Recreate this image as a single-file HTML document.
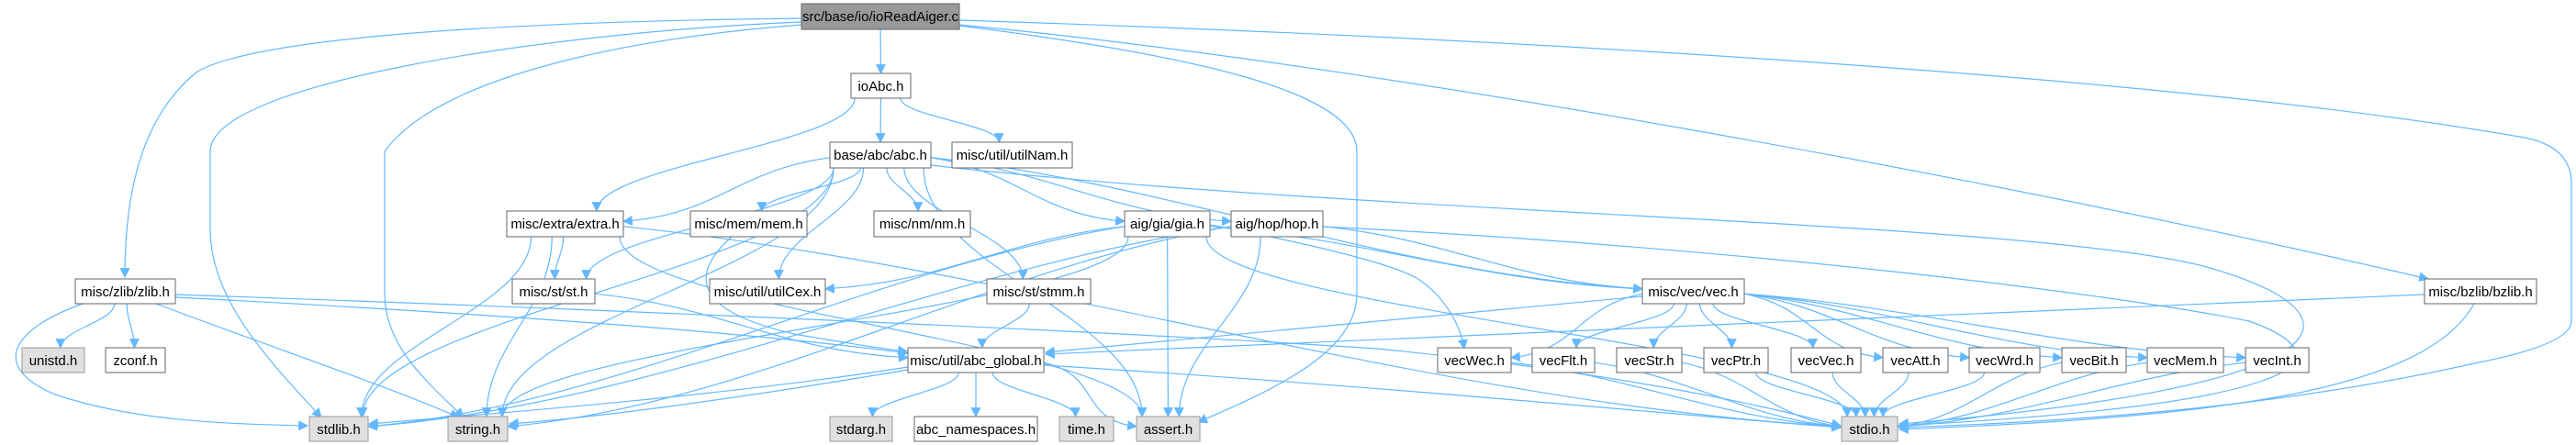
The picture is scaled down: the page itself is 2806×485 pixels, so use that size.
<!DOCTYPE html>
<html><head><meta charset="utf-8"><style>
html,body{margin:0;padding:0;background:#fff;}
svg{display:block;font-family:"Liberation Sans",Arial,sans-serif;}
</style></head><body>
<svg id="g" width="2806" height="485" viewBox="0 0 2806 485" xmlns="http://www.w3.org/2000/svg">
<defs><marker id="a" viewBox="0 0 10 10" refX="9" refY="5" markerWidth="11" markerHeight="11" markerUnits="userSpaceOnUse" orient="auto"><path d="M0,0 L10,5 L0,10 z" fill="#63b8ff"/></marker></defs>
<g fill="none" stroke="#63b8ff" stroke-width="1.2" marker-end="url(#a)">
<path d="M873,20 C700,22 300,30 215,78 C150,130 136,220 136,302"/>
<path d="M873,24 C600,35 229,90 229,165 L229,250 C229,330 300,400 350,455"/>
<path d="M873,27 C700,40 480,80 419,165 L419,320 C419,380 470,420 505,455"/>
<path d="M1045,22 C1600,40 2350,80 2750,150 Q2801,160 2801,200 L2801,350 Q2801,375 2700,395 C2500,440 2300,458 2069,466"/>
<path d="M1045,27 C1500,70 2200,200 2645,304"/>
<path d="M1045,28 C1300,60 1478,100 1478,165 L1478,320 C1478,380 1400,420 1305,460"/>
<path d="M1014,180 C1500,235 2200,240 2400,290 C2580,340 2580,420 2069,462"/>
<path d="M1441,247 C1900,270 2300,320 2450,350 C2560,390 2520,440 2069,464"/>
<path d="M2695,331 C2640,430 2400,455 2069,468"/>
<path d="M2641,321 C2200,340 1600,365 1139,386"/>
<path d="M1789,323 C1500,350 1300,370 1139,384"/>
<path d="M1318,245 C1450,270 1520,290 1543,303 C1570,320 1590,350 1595,380"/>
<path d="M191,321 C600,335 1200,360 1500,380 C1800,410 1950,450 2005,464"/>
<path d="M191,324 C500,340 800,360 989,385"/>
<path d="M170,331 C300,380 420,420 500,455"/>
<path d="M90,331 C10,360 -10,400 60,430 C150,460 250,462 335,464"/>
<path d="M989,400 C800,430 550,450 402,462"/>
<path d="M989,403 C800,435 650,455 555,462"/>
<path d="M1137,398 C1500,420 1800,450 2005,466"/>
<path d="M797,258 C750,300 755,340 870,365 C930,375 960,380 988,383"/>
</g>
<g id="edges" fill="none" stroke="#63b8ff" stroke-width="1.2"></g>
<g id="nodes" font-size="15" text-anchor="middle">
<rect x="873" y="4" width="172" height="28" fill="#999" stroke="#666"/><text x="959" y="23">src/base/io/ioReadAiger.c</text>
<rect x="927" y="80" width="65" height="27" fill="#fff" stroke="#666"/><text x="959.5" y="99">ioAbc.h</text>
<rect x="904" y="155" width="110" height="28" fill="#fff" stroke="#666"/><text x="959" y="174">base/abc/abc.h</text>
<rect x="1037" y="155" width="131" height="28" fill="#fff" stroke="#666"/><text x="1102.5" y="174">misc/util/utilNam.h</text>
<rect x="552" y="230" width="127" height="28" fill="#fff" stroke="#666"/><text x="615.5" y="249">misc/extra/extra.h</text>
<rect x="752" y="230" width="127" height="28" fill="#fff" stroke="#666"/><text x="815.5" y="249">misc/mem/mem.h</text>
<rect x="952" y="230" width="105" height="28" fill="#fff" stroke="#666"/><text x="1004.5" y="249">misc/nm/nm.h</text>
<rect x="1225" y="230" width="93" height="28" fill="#fff" stroke="#666"/><text x="1271.5" y="249">aig/gia/gia.h</text>
<rect x="1341" y="230" width="100" height="28" fill="#fff" stroke="#666"/><text x="1391" y="249">aig/hop/hop.h</text>
<rect x="82" y="304" width="109" height="27" fill="#fff" stroke="#666"/><text x="136.5" y="323">misc/zlib/zlib.h</text>
<rect x="558" y="304" width="90" height="27" fill="#fff" stroke="#666"/><text x="603" y="323">misc/st/st.h</text>
<rect x="773" y="304" width="126" height="27" fill="#fff" stroke="#666"/><text x="836" y="323">misc/util/utilCex.h</text>
<rect x="1075" y="304" width="113" height="27" fill="#fff" stroke="#666"/><text x="1131.5" y="323">misc/st/stmm.h</text>
<rect x="1789" y="304" width="111" height="27" fill="#fff" stroke="#666"/><text x="1844.5" y="323">misc/vec/vec.h</text>
<rect x="2641" y="304" width="122" height="27" fill="#fff" stroke="#666"/><text x="2702" y="323">misc/bzlib/bzlib.h</text>
<rect x="24" y="379" width="68" height="27" fill="#e0e0e0" stroke="#999"/><text x="58" y="398">unistd.h</text>
<rect x="115" y="379" width="65" height="27" fill="#fff" stroke="#666"/><text x="147.5" y="398">zconf.h</text>
<rect x="989" y="379" width="148" height="27" fill="#fff" stroke="#666"/><text x="1063" y="398">misc/util/abc_global.h</text>
<rect x="1566" y="379" width="80" height="27" fill="#fff" stroke="#666"/><text x="1606" y="398">vecWec.h</text>
<rect x="1669" y="379" width="68" height="27" fill="#fff" stroke="#666"/><text x="1703" y="398">vecFlt.h</text>
<rect x="1761" y="379" width="71" height="27" fill="#fff" stroke="#666"/><text x="1796.5" y="398">vecStr.h</text>
<rect x="1856" y="379" width="70" height="27" fill="#fff" stroke="#666"/><text x="1891" y="398">vecPtr.h</text>
<rect x="1951" y="379" width="76" height="27" fill="#fff" stroke="#666"/><text x="1989" y="398">vecVec.h</text>
<rect x="2051" y="379" width="71" height="27" fill="#fff" stroke="#666"/><text x="2086.5" y="398">vecAtt.h</text>
<rect x="2145" y="379" width="77" height="27" fill="#fff" stroke="#666"/><text x="2183.5" y="398">vecWrd.h</text>
<rect x="2246" y="379" width="70" height="27" fill="#fff" stroke="#666"/><text x="2281" y="398">vecBit.h</text>
<rect x="2339" y="379" width="83" height="27" fill="#fff" stroke="#666"/><text x="2380.5" y="398">vecMem.h</text>
<rect x="2446" y="379" width="69" height="27" fill="#fff" stroke="#666"/><text x="2480.5" y="398">vecInt.h</text>
<rect x="337" y="454" width="64" height="27" fill="#e0e0e0" stroke="#999"/><text x="369" y="473">stdlib.h</text>
<rect x="488" y="454" width="65" height="27" fill="#e0e0e0" stroke="#999"/><text x="520.5" y="473">string.h</text>
<rect x="904" y="454" width="68" height="27" fill="#e0e0e0" stroke="#999"/><text x="938" y="473">stdarg.h</text>
<rect x="996" y="454" width="134" height="27" fill="#fff" stroke="#666"/><text x="1063" y="473">abc_namespaces.h</text>
<rect x="1154" y="454" width="59" height="27" fill="#e0e0e0" stroke="#999"/><text x="1183.5" y="473">time.h</text>
<rect x="1238" y="454" width="69" height="27" fill="#e0e0e0" stroke="#999"/><text x="1272.5" y="473">assert.h</text>
<rect x="2006" y="454" width="61" height="27" fill="#e0e0e0" stroke="#999"/><text x="2036.5" y="473">stdio.h</text>
</g>
</svg>
<script>
var N={};
document.querySelectorAll('#nodes rect').forEach(function(r){
 var t=r.nextElementSibling.textContent;
 N[t]={x:+r.getAttribute('x'),y:+r.getAttribute('y'),w:+r.getAttribute('width'),h:+r.getAttribute('height')};
});
var E=[
["src/base/io/ioReadAiger.c",["ioAbc.h"]],
["ioAbc.h",["base/abc/abc.h","misc/util/utilNam.h","misc/extra/extra.h"]],
["base/abc/abc.h",["misc/extra/extra.h","misc/mem/mem.h","misc/nm/nm.h","aig/gia/gia.h","aig/hop/hop.h","misc/st/st.h","misc/util/utilCex.h","misc/st/stmm.h","misc/vec/vec.h","stdlib.h","string.h","assert.h"]],
["misc/extra/extra.h",["misc/st/st.h","stdlib.h","string.h","assert.h","stdio.h"]],
["aig/gia/gia.h",["misc/util/utilCex.h","stdlib.h","string.h","assert.h","stdio.h","misc/vec/vec.h"]],
["aig/hop/hop.h",["misc/vec/vec.h","stdlib.h","string.h","assert.h"]],
["misc/st/st.h",["misc/util/abc_global.h"]],
["misc/st/stmm.h",["misc/util/abc_global.h"]],
["misc/zlib/zlib.h",["unistd.h","zconf.h"]],
["misc/vec/vec.h",["vecWec.h","vecFlt.h","vecStr.h","vecPtr.h","vecVec.h","vecAtt.h","vecWrd.h","vecBit.h","vecMem.h","vecInt.h"]],
["misc/util/abc_global.h",["stdarg.h","abc_namespaces.h","time.h","assert.h"]],
["vecWec.h",["stdio.h"]],["vecFlt.h",["stdio.h"]],["vecStr.h",["stdio.h"]],["vecPtr.h",["stdio.h"]],["vecVec.h",["stdio.h"]],["vecAtt.h",["stdio.h"]],["vecWrd.h",["stdio.h"]],["vecBit.h",["stdio.h"]],["vecMem.h",["stdio.h"]],["vecInt.h",["stdio.h"]]
];
var g=document.getElementById('edges'),s='';
E.forEach(function(e){var a=N[e[0]];e[1].forEach(function(t){var b=N[t];if(!a||!b)return;
 var x1=a.x+a.w/2,y1=a.y+a.h,x2=b.x+b.w/2,y2=b.y;
 var dx=x2-x1,dy=y2-y1;
 if(Math.abs(dx)>4*dy){
  x1=dx>0?a.x+a.w:a.x; y1=a.y+a.h*0.6;
  x2=dx>0?b.x:b.x+b.w; y2=b.y+b.h*0.4;
  s+='<path marker-end="url(#a)" d="M'+x1+','+y1+' C'+(x1+dx*0.3)+','+(y1+ (y2-y1)*0.2)+' '+(x2-dx*0.3)+','+(y2-(y2-y1)*0.1)+' '+x2+','+y2+'"/>';
  return;
 }
 x1+=Math.max(-a.w/2+4,Math.min(a.w/2-4,dx*0.15));
 x2-=Math.max(-b.w/2+6,Math.min(b.w/2-6,dx*0.1));
 s+='<path marker-end="url(#a)" d="M'+x1+','+y1+' C'+x1+','+(y1+dy*0.4)+' '+x2+','+(y2-dy*0.4)+' '+x2+','+y2+'"/>';
});});
g.innerHTML=s;
</script>
</body></html>
